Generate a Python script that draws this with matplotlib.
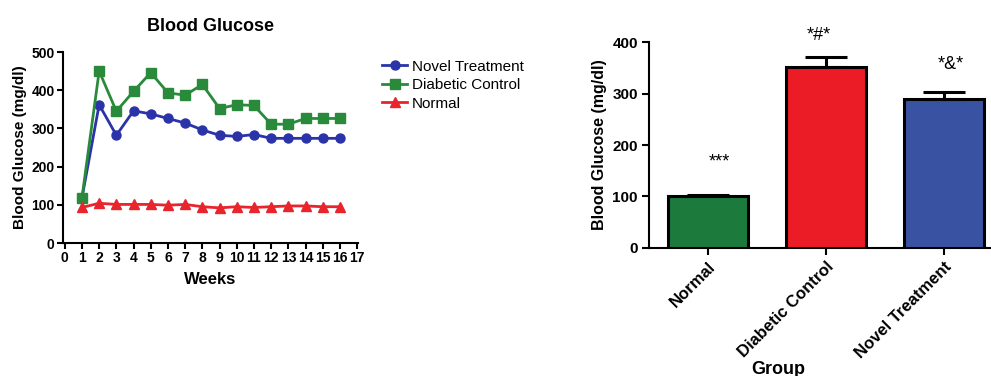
import matplotlib.pyplot as plt

plt.rcParams['font.family'] = ['Liberation Sans', 'DejaVu Sans']

weeks = list(range(1, 17))
novel = [118, 362, 282, 346, 338, 326, 314, 296, 282, 279, 284, 274, 274, 274, 274, 274]
diabetic = [118, 450, 345, 397, 446, 393, 387, 415, 352, 362, 360, 311, 311, 326, 326, 326]
normal = [93, 104, 101, 101, 101, 99, 101, 95, 92, 95, 93, 95, 97, 97, 95, 95]

groups = ['Normal', 'Diabetic Control', 'Novel Treatment']
means = [100, 352, 289]
errs = [2, 20, 14]
marks = ['***', '*#*', '*&*']
mark_y = [166, 414, 356]

c_blue = '#2b33a8'
c_green = '#2a8a3c'
c_red = '#e8242c'
bar_colors = ['#1b7a3c', '#ec1c26', '#3a52a2']

fig = plt.figure(figsize=(9.91, 3.76), dpi=100)

# left: time course
ax = fig.add_axes([0.0636, 0.3537, 0.2977, 0.508])
ax.plot(weeks, novel, '-o', color=c_blue, lw=2, ms=6.5, label='Novel Treatment')
ax.plot(weeks, diabetic, '-s', color=c_green, lw=2, ms=6.5, label='Diabetic Control')
ax.plot(weeks, normal, '-^', color=c_red, lw=2, ms=6.5, label='Normal')
ax.set_xlim(-0.1, 17.05)
ax.set_ylim(0, 500)
ax.set_xticks(range(0, 18))
ax.set_yticks(range(0, 501, 100))
ax.set_title('Blood Glucose', fontsize=13, fontweight='bold', pad=15)
ax.set_xlabel('Weeks', fontsize=12, fontweight='bold', labelpad=5)
ax.set_ylabel('Blood Glucose (mg/dl)', fontsize=11, fontweight='bold', labelpad=3)
for s in ['top', 'right']:
    ax.spines[s].set_visible(False)
for s in ['left', 'bottom']:
    ax.spines[s].set_linewidth(1.5)
ax.tick_params(direction='out', length=4, width=1.5, labelsize=10, pad=2)
for lab in ax.get_xticklabels() + ax.get_yticklabels():
    lab.set_fontweight('bold')
fig.legend(loc='upper left', bbox_to_anchor=(0.372, 0.878), frameon=False,
           fontsize=11, handlelength=1.6, labelspacing=0.3, handletextpad=0.35)

# right: group means
bx = fig.add_axes([0.6549, 0.3412, 0.3572, 0.5463])
x = range(len(groups))
bx.bar(x, means, width=0.68, color=bar_colors, edgecolor='black', linewidth=2.2,
       yerr=[[0] * len(errs), errs],
       error_kw=dict(ecolor='black', elinewidth=2.2, capsize=15, capthick=2.2),
       zorder=3)
for i, m in enumerate(marks):
    bx.text(i + [0.1, -0.06, 0.06][i], mark_y[i], m,
            ha='center', va='center', fontsize=13)
bx.set_xlim(-0.5, 2.5)
bx.set_ylim(0, 400)
bx.set_yticks(range(0, 401, 100))
bx.set_xticks(list(x))
bx.set_xticklabels(groups, rotation=45, ha='right', rotation_mode='anchor')
bx.set_ylabel('Blood Glucose (mg/dl)', fontsize=11.5, fontweight='bold', labelpad=4)
for s in ['top', 'right']:
    bx.spines[s].set_visible(False)
for s in ['left', 'bottom']:
    bx.spines[s].set_linewidth(1.5)
bx.tick_params(direction='out', length=5, width=1.5, labelsize=11, pad=3)
for lab in bx.get_yticklabels():
    lab.set_fontweight('bold')
for lab in bx.get_xticklabels():
    lab.set_fontweight('bold')
    lab.set_fontsize(12)
fig.text(0.785, 0.018, 'Group', ha='center', va='center', fontsize=13, fontweight='bold')

fig.savefig('out.png', dpi=100)
